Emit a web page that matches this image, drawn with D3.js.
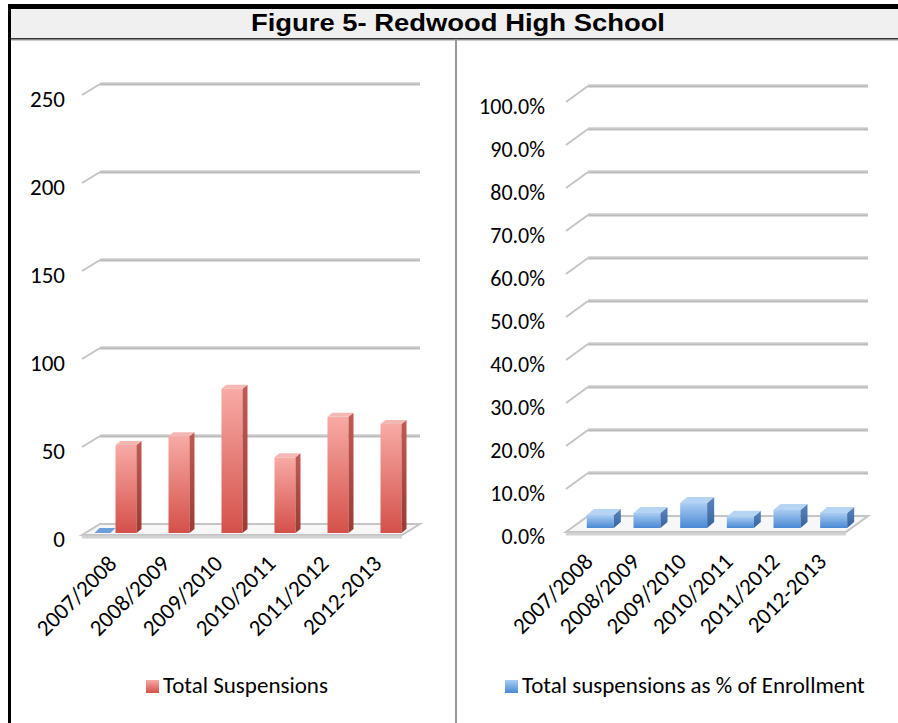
<!DOCTYPE html>
<html>
<head>
<meta charset="utf-8">
<script src="https://cdn.jsdelivr.net/npm/d3@7"></script>
<style>
    body { margin: 0; background: #fff; }
    svg text { font-family: Calibri, Carlito, "Open Sans", sans-serif; fill: #000; }
</style>
</head>
<body>
<svg id="chart"></svg>
<script>
// Data
const categories = ['2007/2008', '2008/2009', '2009/2010', '2010/2011', '2011/2012', '2012-2013'];
const totalSuspensions = [50, 55, 82, 43, 66, 62];
const pctOfEnrollment = [0.030, 0.035, 0.058, 0.026, 0.042, 0.035];
// the % series also shows (flat) on the count chart, only for the first year
const pctOnCountChart = [0.3, 0, 0, 0, 0, 0];
const countTicks = [0, 50, 100, 150, 200, 250];
const pctTicks = [0, 0.1, 0.2, 0.3, 0.4, 0.5, 0.6, 0.7, 0.8, 0.9, 1.0];
const titleText = 'Figure 5- Redwood High School';
const countLegend = 'Total Suspensions';
const pctLegend = 'Total suspensions as % of Enrollment';

const width = 898, height = 723;

const svg = d3.select('#chart')
    .attr('width', width)
    .attr('height', height);

const defs = svg.append('defs');

function vGrad(id, top, bottom) {
    const gr = defs.append('linearGradient').attr('id', id)
        .attr('x1', 0).attr('y1', 0).attr('x2', 0).attr('y2', 1);
    gr.append('stop').attr('offset', '0%').attr('stop-color', top);
    gr.append('stop').attr('offset', '100%').attr('stop-color', bottom);
}
vGrad('redFront', '#f8aaa5', '#d4504a');
vGrad('redSide', '#c05a54', '#9e3a34');
vGrad('blueFront', '#a9cdf3', '#4a88d4');
vGrad('blueSide', '#5b86c0', '#35629e');

const red = { front: 'url(#redFront)', side: 'url(#redSide)', top: '#f4b8b4' };
const blue = { front: 'url(#blueFront)', side: 'url(#blueSide)', top: '#b6d4f4' };

// Frame and title band
svg.append('rect').attr('x', 11).attr('y', 9).attr('width', width - 11).attr('height', 29).attr('fill', '#f0f0f0');
svg.append('rect').attr('x', 8).attr('y', 4).attr('width', width - 8).attr('height', 5).attr('fill', '#000');
svg.append('rect').attr('x', 8).attr('y', 4).attr('width', 3).attr('height', height - 4).attr('fill', '#000');
svg.append('line').attr('x1', 11).attr('x2', width).attr('y1', 38.5).attr('y2', 38.5).attr('stroke', '#333');
svg.append('line').attr('x1', 11).attr('x2', width).attr('y1', 39.5).attr('y2', 39.5).attr('stroke', '#888');
svg.append('line').attr('x1', 11).attr('x2', width).attr('y1', 40.5).attr('y2', 40.5).attr('stroke', '#ccc');
svg.append('line').attr('x1', 456).attr('x2', 456).attr('y1', 39).attr('y2', height)
    .attr('stroke', '#999').attr('stroke-width', 2);

svg.append('text')
    .attr('x', 458).attr('y', 31)
    .attr('text-anchor', 'middle')
    .attr('textLength', 414)
    .attr('lengthAdjust', 'spacingAndGlyphs')
    .style('font-family', 'Arial, "Liberation Sans", sans-serif')
    .style('font-weight', 'bold')
    .style('font-size', '23px')
    .text(titleText);

function bar3d(g, x, w, yTop, yBase, d, c) {
    const [dx, dy] = d;
    g.append('rect')
        .attr('x', x).attr('y', yTop)
        .attr('width', w).attr('height', Math.max(0, yBase - yTop))
        .attr('fill', c.front);
    g.append('path')
        .attr('d', `M${x + w},${yTop}L${x + w + dx},${yTop + dy}L${x + w + dx},${yBase + dy}L${x + w},${yBase}Z`)
        .attr('fill', c.side);
    g.append('path')
        .attr('d', `M${x},${yTop}L${x + dx},${yTop + dy}L${x + w + dx},${yTop + dy}L${x + w},${yTop}Z`)
        .attr('fill', c.top);
}

function drawPanel(cfg) {
    const g = svg.append('g');
    const yBack = d3.scaleLinear().domain(cfg.domain).range(cfg.backRange);
    const yFront = d3.scaleLinear().domain(cfg.domain).range(cfg.frontRange);
    const x = d3.scaleBand().domain(categories).range(cfg.band);
    const [ox, oy] = cfg.wallOffset;

    // floor slab
    const yb = yBack(0);
    g.append('path')
        .attr('d', `M${cfg.wall[0]},${yb}L${cfg.wall[1]},${yb}L${cfg.wall[1] + ox},${yb + oy}L${cfg.wall[0] + ox},${yb + oy}Z`)
        .attr('fill', '#f7f7f7')
        .attr('stroke', '#c4c4c4')
        .attr('stroke-width', 2);
    g.append('line')
        .attr('x1', cfg.wall[0] + ox).attr('x2', cfg.wall[1] + ox)
        .attr('y1', yb + oy + 2).attr('y2', yb + oy + 2)
        .attr('stroke', '#d2d2d2').attr('stroke-width', 3);

    // gridlines on back wall + side wall stubs
    const grid = g.append('g');
    cfg.ticks.filter(v => v > 0).forEach(v => {
        const y = yBack(v);
        grid.append('line')
            .attr('x1', cfg.wall[0]).attr('x2', cfg.wall[1])
            .attr('y1', y).attr('y2', y)
            .attr('stroke', '#bcbcbc').attr('stroke-width', 3);
        grid.append('line')
            .attr('x1', cfg.wall[0]).attr('x2', cfg.wall[1])
            .attr('y1', y - 1).attr('y2', y - 1)
            .attr('stroke', '#d6d6d6').attr('stroke-width', 1);
        grid.append('line')
            .attr('x1', cfg.wall[0] + ox).attr('y1', y + oy)
            .attr('x2', cfg.wall[0]).attr('y2', y)
            .attr('stroke', '#c4c4c4').attr('stroke-width', 2);
    });

    // tick labels
    g.append('g').selectAll('text')
        .data(cfg.ticks)
        .join('text')
        .attr('x', cfg.labelX)
        .attr('y', d => yBack(d) + oy + 4)
        .attr('dy', '0.35em')
        .attr('text-anchor', 'end')
        .style('font-size', cfg.tickSize)
        .text(cfg.format);

    // bars
    const bars = g.append('g');
    if (cfg.extra) {
        cfg.extra.forEach((v, i) => {
            if (v <= 0) return;
            const xb = x(categories[i]) + x.bandwidth() / 2 - cfg.barW / 2 - 21;
            const yb0 = yFront(0);
            bars.append('path')
                .attr('d', `M${xb},${yb0}L${xb + 16},${yb0}L${xb + 21},${yb0 - 5}L${xb + 5},${yb0 - 5}Z`)
                .attr('fill', '#6f9fd8');
        });
    }
    cfg.values.forEach((v, i) => {
        const xc = x(categories[i]) + x.bandwidth() / 2;
        bar3d(bars, xc - cfg.barW / 2, cfg.barW, yFront(v), yFront(0), cfg.depth, cfg.colors);
    });

    // category labels
    g.append('g').selectAll('text')
        .data(categories)
        .join('text')
        .attr('transform', d => `translate(${x(d) + x.bandwidth() / 2 + cfg.catShift[0]},${cfg.catShift[1]}) rotate(-45)`)
        .attr('text-anchor', 'end')
        .style('font-size', '23px')
        .text(d => d);

    // legend
    const lg = g.append('g').attr('transform', `translate(${cfg.legend[0]},${cfg.legend[1]})`);
    lg.append('rect').attr('x', 0).attr('y', -13).attr('width', 13).attr('height', 13)
        .attr('fill', cfg.colors.front);
    lg.append('text').attr('x', 17).attr('y', 0).style('font-size', '23px').text(cfg.legendText);
}

drawPanel({
    domain: [0, 250],
    ticks: countTicks,
    format: d => d,
    tickSize: '23px',
    values: totalSuspensions,
    extra: pctOnCountChart,
    wall: [100, 420],
    wallOffset: [-18, 11],
    backRange: [524, 84],
    frontRange: [533, 93],
    band: [99.5, 417.5],
    barW: 21,
    depth: [5, -4],
    colors: red,
    labelX: 65,
    catShift: [-8, 565],
    legend: [146, 693],
    legendText: countLegend
});

drawPanel({
    domain: [0, 1],
    ticks: pctTicks,
    format: d3.format('.1%'),
    tickSize: '22px',
    values: pctOfEnrollment,
    wall: [588, 868],
    wallOffset: [-22, 16],
    backRange: [516, 86],
    frontRange: [528, 98],
    band: [577, 857],
    barW: 27,
    depth: [7, -6],
    colors: blue,
    labelX: 545,
    catShift: [-6, 563],
    legend: [505, 693],
    legendText: pctLegend
});
</script>
</body>
</html>
